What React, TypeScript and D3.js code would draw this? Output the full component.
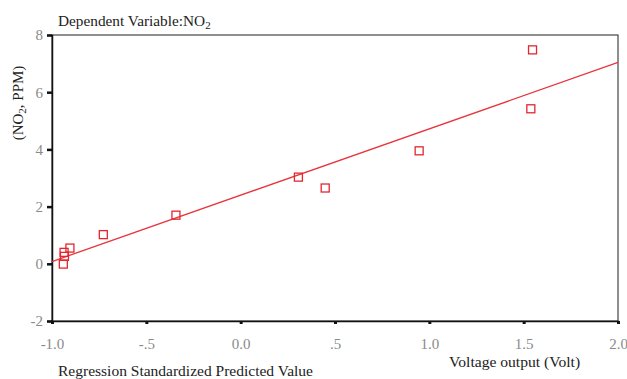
import { useEffect, useRef } from 'react';
import * as d3 from 'd3';

// observed points (predicted value, NO2 ppm)
const predicted = [1.547, 1.538, 0.946, 0.306, 0.448, -0.343, -0.728, -0.905, -0.936, -0.934, -0.94];
const no2 = [7.48, 5.42, 3.95, 3.03, 2.65, 1.7, 1.02, 0.55, 0.4, 0.26, -0.01];

// fitted line endpoints
const fitX = [-1.0, 2.0];
const fitY = [0.08, 7.04];

const xTicks = [-1, -0.5, 0, 0.5, 1, 1.5, 2];
const xTickLabels = ['-1.0', '-.5', '0.0', '.5', '1.0', '1.5', '2.0'];
const yTicks = [-2, 0, 2, 4, 6, 8];

const App = () => {
  const svgRef = useRef<SVGSVGElement>(null);

  useEffect(() => {
    const svg = d3.select(svgRef.current);
    svg.selectAll('*').remove();

    const W = 627, H = 379;
    const margin = { top: 35, right: 9, bottom: 58, left: 52 };
    const width = W - margin.left - margin.right;
    const height = H - margin.top - margin.bottom;
    const font = '"Liberation Serif", "Times New Roman", serif';

    const x = d3.scaleLinear().domain([-1, 2]).range([0, width]);
    const y = d3.scaleLinear().domain([-2, 8]).range([height, 0]);

    const g = svg.append('g').attr('transform', `translate(${margin.left},${margin.top})`);

    // frame
    g.append('rect')
      .attr('x', 0).attr('y', 0)
      .attr('width', width).attr('height', height)
      .attr('fill', 'none')
      .attr('stroke', '#444')
      .attr('stroke-width', 1.2);

    // y axis (plain hyphen for negatives, like the original)
    const yAxis = g.append('g')
      .call(d3.axisLeft(y).tickValues(yTicks).tickSize(5).tickPadding(4).tickFormat(d => String(d)));
    yAxis.select('.domain').attr('stroke', '#111').attr('stroke-width', 1.5);
    yAxis.selectAll('.tick line').attr('stroke', '#111').attr('stroke-width', 2.5);
    yAxis.selectAll('.tick text')
      .attr('font-family', font).attr('font-size', 15).attr('fill', '#8a8a8a');

    // x axis
    const xAxis = g.append('g')
      .attr('transform', `translate(0,${height})`)
      .call(d3.axisBottom(x).tickValues(xTicks).tickSize(3).tickPadding(14)
        .tickFormat((d, i) => xTickLabels[i]));
    xAxis.select('.domain').attr('stroke', '#111').attr('stroke-width', 1.5);
    xAxis.selectAll('.tick line').attr('stroke', '#111').attr('stroke-width', 3);
    xAxis.selectAll('.tick text')
      .attr('font-family', font).attr('font-size', 15).attr('fill', '#8a8a8a');

    // fit line
    const line = d3.line<number>()
      .x(v => x(v))
      .y((_, i) => y(fitY[i]));
    g.append('path')
      .datum(fitX)
      .attr('d', line)
      .attr('fill', 'none')
      .attr('stroke', '#e8343c')
      .attr('stroke-width', 1.3);

    // points
    const s = 8;
    g.selectAll('rect.pt')
      .data(predicted)
      .enter()
      .append('rect')
      .attr('class', 'pt')
      .attr('x', d => x(d) - s / 2)
      .attr('y', (_, i) => y(no2[i]) - s / 2)
      .attr('width', s)
      .attr('height', s)
      .attr('fill', 'none')
      .attr('stroke', '#e3262f')
      .attr('stroke-width', 1.3);

    // texts
    const title = svg.append('text')
      .attr('x', 58).attr('y', 26)
      .attr('font-family', font).attr('font-size', 15.3).attr('fill', '#222');
    title.append('tspan').text('Dependent Variable:NO');
    title.append('tspan').attr('font-size', 11).attr('dy', 3).text('2');

    const ylab = svg.append('text')
      .attr('transform', 'translate(23,103) rotate(-90)')
      .attr('text-anchor', 'middle')
      .attr('font-family', font).attr('font-size', 15).attr('fill', '#222');
    ylab.append('tspan').text('(NO');
    ylab.append('tspan').attr('font-size', 11).attr('dy', 3).text('2');
    ylab.append('tspan').attr('dy', -3).text(', PPM)');

    svg.append('text')
      .attr('x', 58).attr('y', 376)
      .attr('font-family', font).attr('font-size', 15.5).attr('fill', '#222')
      .text('Regression Standardized Predicted Value');

    svg.append('text')
      .attr('x', 449).attr('y', 367)
      .attr('font-family', font).attr('font-size', 15.6).attr('fill', '#222')
      .text('Voltage output (Volt)');
  }, []);

  return (
    <div style={{ position: 'absolute', left: 0, top: 0, background: '#fff' }}>
      <svg ref={svgRef} width={627} height={379} style={{ display: 'block' }} />
    </div>
  );
};

export default App;
